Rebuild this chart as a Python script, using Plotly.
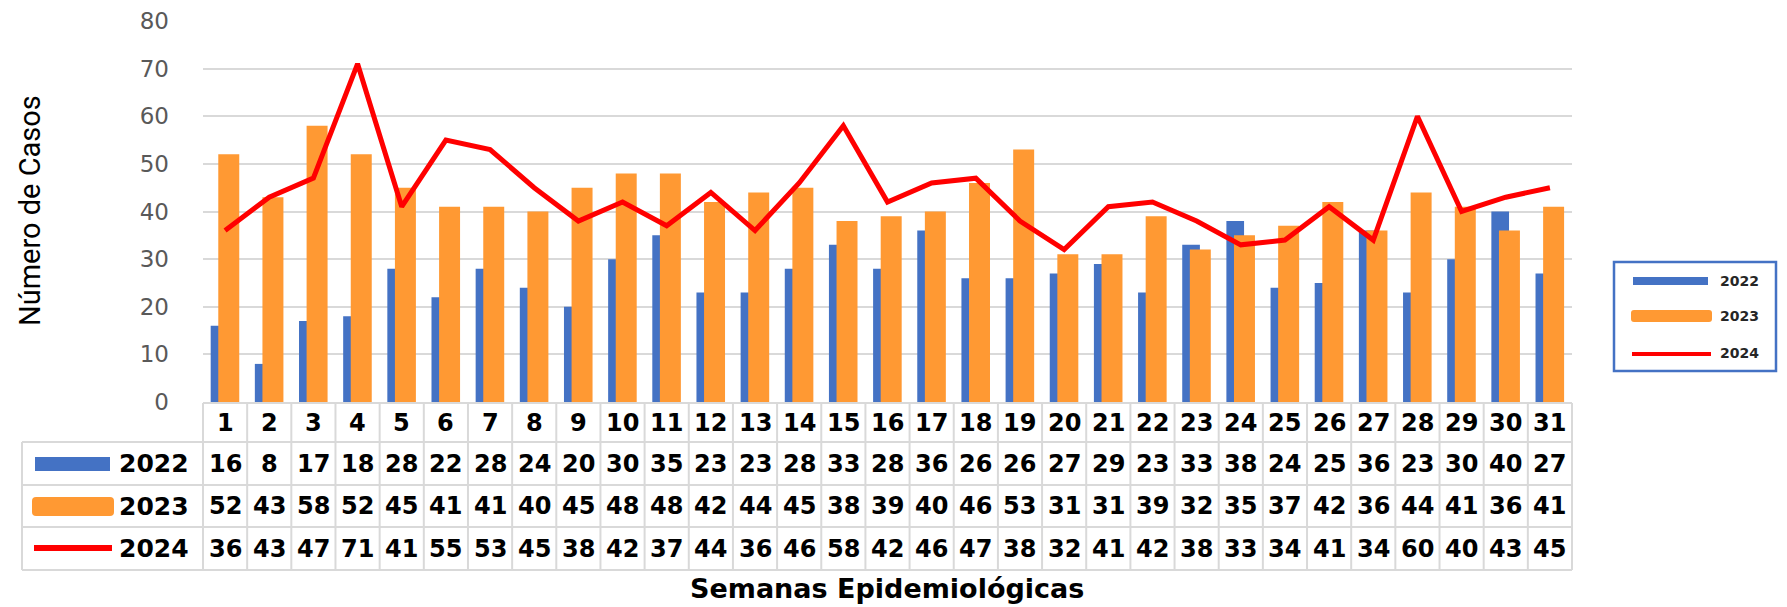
import plotly.graph_objects as go

weeks = ["1", "2", "3", "4", "5", "6", "7", "8", "9", "10", "11", "12", "13", "14", "15", "16",
         "17", "18", "19", "20", "21", "22", "23", "24", "25", "26", "27", "28", "29", "30", "31"]
cases_2022 = [16, 8, 17, 18, 28, 22, 28, 24, 20, 30, 35, 23, 23, 28, 33, 28, 36, 26, 26, 27, 29, 23,
              33, 38, 24, 25, 36, 23, 30, 40, 27]
cases_2023 = [52, 43, 58, 52, 45, 41, 41, 40, 45, 48, 48, 42, 44, 45, 38, 39, 40, 46, 53, 31, 31, 39,
              32, 35, 37, 42, 36, 44, 41, 36, 41]
cases_2024 = [36, 43, 47, 71, 41, 55, 53, 45, 38, 42, 37, 44, 36, 46, 58, 42, 46, 47, 38, 32, 41, 42,
              38, 33, 34, 41, 34, 60, 40, 43, 45]
series_names = ["2022", "2023", "2024"]
y_ticks = [0, 10, 20, 30, 40, 50, 60, 70, 80]

BLUE = "#4472C4"
ORANGE = "#FF9933"
RED = "#FF0000"
GRID = "#D9D9D9"

OFF = 8  # page body margin offset
W, H = 1787 - OFF, 607 - OFF
# plot area in reference-window pixels
PL, PR, PT, PB = 203, 1572, 21, 402


def px(x):
    return (x - PL) / (PR - PL)


def py(y):
    return (PB - y) / (PB - PT)


fig = go.Figure()
fig.add_trace(go.Bar(x=weeks, y=cases_2022, name=series_names[0], marker_color=BLUE,
                     width=0.40, offset=-0.326, marker_line_width=0))
fig.add_trace(go.Bar(x=weeks, y=cases_2023, name=series_names[1], marker_color=ORANGE,
                     width=0.475, offset=-0.154, marker_line_width=0))
fig.add_trace(go.Scatter(x=weeks, y=cases_2024, name=series_names[2], mode="lines",
                         line=dict(color=RED, width=5)))

shapes = []
annotations = []

# ---- data table below the chart ----
ncol = len(weeks)
row_edges = [403, 442, 485, 527, 570]
label_left = 22
grid_line = dict(color=GRID, width=2)
shapes.append(dict(type="line", xref="paper", yref="paper", x0=0, x1=1,
                   y0=py(row_edges[0]), y1=py(row_edges[0]), line=grid_line))
for ry in row_edges[1:]:
    shapes.append(dict(type="line", xref="paper", yref="paper", x0=px(label_left), x1=1,
                       y0=py(ry), y1=py(ry), line=grid_line))
for k in range(ncol + 1):
    shapes.append(dict(type="line", xref="paper", yref="paper", x0=k / ncol, x1=k / ncol,
                       y0=py(row_edges[0]), y1=py(row_edges[-1]), line=grid_line))
shapes.append(dict(type="line", xref="paper", yref="paper", x0=px(label_left), x1=px(label_left),
                   y0=py(row_edges[1]), y1=py(row_edges[-1]), line=grid_line))

cell_font = dict(family="DejaVu Sans", size=24, color="#000000")
header_y = (row_edges[0] + row_edges[1]) / 2
for i, w in enumerate(weeks):
    annotations.append(dict(x=(i + 0.5) / ncol, xref="paper", y=py(header_y), yref="paper",
                            text="<b>%s</b>" % w, showarrow=False, font=cell_font,
                            xanchor="center", yanchor="middle"))
table_rows = [cases_2022, cases_2023, cases_2024]
for r, vals in enumerate(table_rows):
    cy = (row_edges[r + 1] + row_edges[r + 2]) / 2
    for i, v in enumerate(vals):
        annotations.append(dict(x=(i + 0.5) / ncol, xref="paper", y=py(cy), yref="paper",
                                text="<b>%d</b>" % v, showarrow=False, font=cell_font,
                                xanchor="center", yanchor="middle"))
    annotations.append(dict(x=px(117), xref="paper", y=py(cy), yref="paper",
                            text="<b>%s</b>" % series_names[r], showarrow=False,
                            font=dict(family="DejaVu Sans", size=25, color="#000000"),
                            xanchor="left", yanchor="middle"))


def rounded_rect(x0, y0, x1, y1, r):
    pts = [
        f"M {px(x0 + r)} {py(y0)}",
        f"L {px(x1 - r)} {py(y0)}",
        f"Q {px(x1)} {py(y0)} {px(x1)} {py(y0 + r)}",
        f"L {px(x1)} {py(y1 - r)}",
        f"Q {px(x1)} {py(y1)} {px(x1 - r)} {py(y1)}",
        f"L {px(x0 + r)} {py(y1)}",
        f"Q {px(x0)} {py(y1)} {px(x0)} {py(y1 - r)}",
        f"L {px(x0)} {py(y0 + r)}",
        f"Q {px(x0)} {py(y0)} {px(x0 + r)} {py(y0)}",
        "Z",
    ]
    return " ".join(pts)


# table keys
shapes.append(dict(type="rect", xref="paper", yref="paper", x0=px(35), x1=px(110),
                   y0=py(457), y1=py(471), fillcolor=BLUE, line=dict(width=0)))
shapes.append(dict(type="path", xref="paper", yref="paper", path=rounded_rect(32, 497, 114, 516, 4),
                   fillcolor=ORANGE, line=dict(width=0)))
shapes.append(dict(type="line", xref="paper", yref="paper", x0=px(34), x1=px(112),
                   y0=py(548), y1=py(548), line=dict(color=RED, width=6)))

# ---- right legend box ----
shapes.append(dict(type="rect", xref="paper", yref="paper", x0=px(1614), x1=px(1776),
                   y0=py(262), y1=py(371), line=dict(color=BLUE, width=2.5), fillcolor="rgba(0,0,0,0)"))
shapes.append(dict(type="rect", xref="paper", yref="paper", x0=px(1633), x1=px(1708),
                   y0=py(277), y1=py(285), fillcolor=BLUE, line=dict(width=0)))
shapes.append(dict(type="path", xref="paper", yref="paper", path=rounded_rect(1631, 310, 1712, 322, 3),
                   fillcolor=ORANGE, line=dict(width=0)))
shapes.append(dict(type="line", xref="paper", yref="paper", x0=px(1632), x1=px(1711),
                   y0=py(354), y1=py(354), line=dict(color=RED, width=4)))
for name, ly in zip(series_names, [281, 316, 353]):
    annotations.append(dict(x=px(1718), xref="paper", y=py(ly), yref="paper", text="<b>%s</b>" % name,
                            showarrow=False, font=dict(family="DejaVu Sans", size=14, color="#262626"),
                            xanchor="left", yanchor="middle"))

# ---- axis titles ----
annotations.append(dict(x=px(30), xref="paper", y=py(211), yref="paper", text="Número de Casos",
                        showarrow=False, textangle=-90,
                        font=dict(family="Liberation Sans Narrow, Roboto, sans-serif", size=29, color="#000000"),
                        xanchor="center", yanchor="middle"))
annotations.append(dict(x=px(887), xref="paper", y=py(588), yref="paper",
                        text="<b>Semanas Epidemiológicas</b>", showarrow=False,
                        font=dict(family="DejaVu Sans", size=27, color="#000000"),
                        xanchor="center", yanchor="middle"))

fig.update_layout(
    width=W, height=H,
    margin=dict(l=PL - OFF, r=1787 - PR, t=PT - OFF, b=607 - PB, pad=0),
    barmode="overlay",
    plot_bgcolor="white", paper_bgcolor="white",
    showlegend=False,
    shapes=shapes, annotations=annotations,
    xaxis=dict(type="category", categoryorder="array", categoryarray=weeks,
               range=[-0.5, len(weeks) - 0.5], showticklabels=False, showgrid=False,
               zeroline=False, showline=False, ticks="", automargin=False),
    yaxis=dict(range=[0, 80], tickvals=y_ticks, showgrid=True, gridcolor=GRID, gridwidth=2,
               zeroline=False, showline=False, ticks="", ticklabelstandoff=33,
               tickfont=dict(family="DejaVu Sans", size=23, color="#595959"), automargin=False),
)

fig.write_html("out.html")
